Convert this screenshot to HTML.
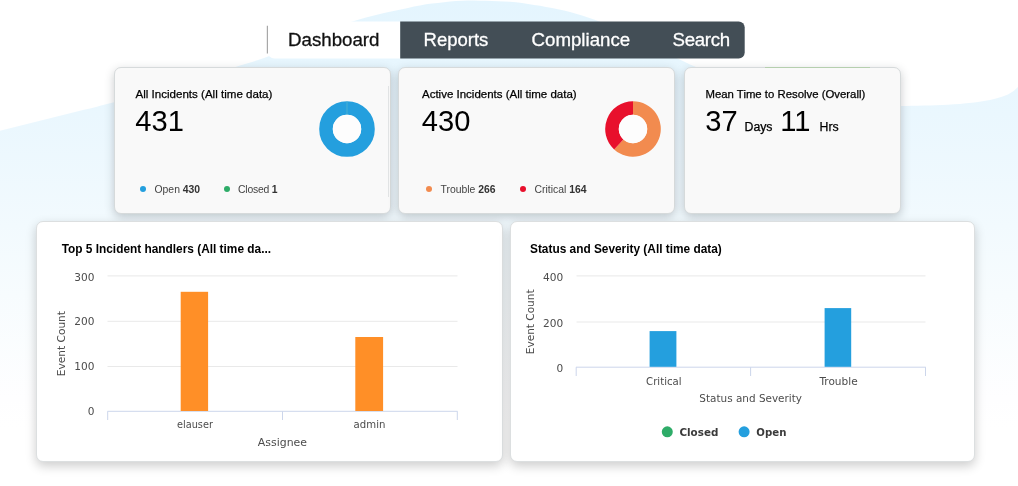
<!DOCTYPE html>
<html lang="en">
<head>
<meta charset="utf-8">
<title>Dashboard</title>
<style>
html,body{margin:0;padding:0;}
body{width:1018px;height:486px;overflow:hidden;background:#fff;position:relative;font-family:"Liberation Sans",Arial,sans-serif;color:#000;}
.abs{position:absolute;}
#bg{position:absolute;left:0;top:0;width:1018px;height:486px;}
.t{position:absolute;white-space:nowrap;line-height:1;}
.card{position:absolute;box-sizing:border-box;background:#f9f9f9;border:1px solid #d6dadb;border-radius:7px;box-shadow:0 3px 10px rgba(45,50,55,.25);}
.wcard{position:absolute;box-sizing:border-box;background:#fff;border:1px solid #dcdfe0;border-radius:7px;box-shadow:0 4px 11px rgba(0,0,0,.2);}
.tl{font-size:18.7px;-webkit-text-stroke:0.3px currentColor;}
.title{font-size:11.57px;color:#000;-webkit-text-stroke:0.25px #000;}
.big{font-size:29.1px;color:#000;}
.lg{font-size:10.4px;color:#444;}
.lg b{color:#333;}
.dot{position:absolute;width:6px;height:6px;border-radius:50%;}
.ct{font-weight:bold;font-size:11.86px;color:#000;}
svg text{font-family:"DejaVu Sans","Liberation Sans",sans-serif;}
</style>
</head>
<body>
<svg id="bg" viewBox="0 0 1018 486">
<defs><linearGradient id="g" x1="0" y1="0" x2="0" y2="1">
<stop offset="0" stop-color="#e4f5fe"/><stop offset="0.235" stop-color="#eaf7fe"/><stop offset="0.32" stop-color="#edf8fe"/><stop offset="0.607" stop-color="#f7fcfe"/><stop offset="0.82" stop-color="#fefeff"/><stop offset="0.88" stop-color="#ffffff"/></linearGradient></defs>
<path d="M0,130.8 L6,129.3 L12,127.8 L18,126.3 L24,124.8 L30,123.3 L36,121.8 L42,120.3 L48,118.8 L54,117.3 L60,115.8 L66,114.3 L72,112.8 L78,111.3 L84,109.8 L90,108.4 L96,106.9 L102,105.3 L108,103.8 L114,102.2 L120,100.6 L126,99.0 L132,97.3 L138,95.7 L144,94.0 L150,92.3 L156,90.6 L162,88.9 L168,87.2 L174,85.4 L180,83.7 L186,81.9 L192,80.1 L198,78.3 L204,76.5 L210,74.7 L216,72.9 L222,71.1 L228,69.3 L234,67.4 L240,65.6 L246,63.8 L252,61.9 L258,60.0 L264,58.0 L270,55.8 L276,53.5 L282,51.1 L288,48.5 L294,45.8 L300,43.1 L306,40.3 L312,37.5 L318,34.8 L324,32.1 L330,29.6 L336,27.1 L342,24.9 L348,22.8 L354,20.9 L360,19.2 L366,17.5 L372,16.0 L378,14.5 L384,13.1 L390,11.8 L396,10.5 L402,9.2 L408,7.9 L414,6.6 L420,5.4 L426,4.3 L432,3.5 L438,2.9 L444,2.2 L450,1.6 L456,1.1 L462,0.8 L468,0.6 L474,0.6 L480,0.7 L486,0.8 L492,1.0 L498,1.2 L504,1.5 L510,1.8 L516,2.3 L522,3.0 L528,3.9 L534,4.9 L540,5.8 L546,6.9 L552,8.0 L558,9.2 L564,10.5 L570,12.0 L576,13.7 L582,15.5 L588,17.5 L594,19.6 L600,21.7 L606,24.1 L612,26.6 L618,29.3 L624,32.1 L630,34.9 L636,37.9 L642,40.9 L648,44.0 L654,47.0 L660,50.0 L666,53.0 L672,56.0 L678,58.8 L684,61.6 L690,64.4 L696,67.0 L702,69.4 L708,71.8 L714,74.1 L720,76.4 L726,78.6 L732,80.7 L738,82.7 L744,84.6 L750,86.4 L756,88.0 L762,89.5 L768,90.9 L774,92.2 L780,93.5 L786,94.8 L792,95.9 L798,97.1 L804,98.1 L810,99.0 L816,99.9 L822,100.7 L828,101.3 L834,101.9 L840,102.4 L846,103.0 L852,103.5 L858,104.0 L864,104.4 L870,104.8 L876,105.2 L882,105.5 L888,105.7 L894,105.8 L900,105.9 L906,105.9 L912,105.8 L918,105.7 L924,105.6 L930,105.4 L936,105.2 L942,105.0 L948,104.7 L954,104.3 L960,103.9 L966,103.3 L972,102.7 L978,101.9 L984,101.0 L990,99.9 L996,98.4 L1002,96.8 L1008,94.5 L1014,90.7 L1018,86.9 L1018,486 L0,486 Z" fill="url(#g)"/>
</svg>

<svg class="abs" style="left:0;top:0;" width="1018" height="70" viewBox="0 0 1018 70">
<path d="M267.4 21.6H400.3V58.5H274.4A7 7 0 0 1 267.4 51.5Z" fill="#fff"/>
<path d="M400.2 21.6H738.7A6 6 0 0 1 744.7 27.6V52.5A6 6 0 0 1 738.7 58.5H400.2Z" fill="#434e56"/>
<path d="M267.4 25.8V53.6" stroke="#a8a8a8" stroke-width="1.2" fill="none"/>
</svg>
<span class="t tl" style="left:288px;top:30.9px;color:#111;">Dashboard</span>
<span class="t tl" style="left:423.6px;top:31.0px;color:#fff;font-size:18.5px;">Reports</span>
<span class="t tl" style="left:531.5px;top:30.9px;color:#fff;">Compliance</span>
<span class="t tl" style="left:672.5px;top:30.9px;color:#fff;letter-spacing:-0.3px;">Search</span>

<!-- cards -->
<div class="card" style="left:114px;top:67px;width:277px;height:147px;"></div>
<div class="card" style="left:398.3px;top:67px;width:276.7px;height:147px;"></div>
<div class="card" style="left:683.7px;top:67px;width:217.3px;height:147px;"></div>
<div class="wcard" style="left:36px;top:221px;width:467px;height:241px;"></div>
<div class="wcard" style="left:510px;top:221px;width:465px;height:241px;"></div>

<!-- card 1 content -->
<span class="t title" style="left:135.5px;top:88.5px;">All Incidents (All time data)</span>
<span class="t big" style="left:135.3px;top:107.3px;">431</span>
<svg class="abs" style="left:318px;top:100px;" width="58" height="58" viewBox="0 0 58 58"><circle cx="29" cy="29" r="21.0" fill="none" stroke="#249fde" stroke-width="13.6"/><circle cx="29" cy="29" r="14.2" fill="#fdfdfd"/><path d="M29 1.4V14.6" stroke="#6fc0c4" stroke-width="0.5"/></svg>
<i class="dot" style="left:140.3px;top:185.6px;background:#249fde;"></i>
<span class="t lg" style="left:154.5px;top:184.8px;">Open <b>430</b></span>
<i class="dot" style="left:223.8px;top:185.6px;background:#2eac68;"></i>
<span class="t lg" style="left:238px;top:184.8px;letter-spacing:-0.2px;">Closed <b>1</b></span>
<div class="abs" style="left:388px;top:86px;width:1px;height:111px;background:#e1e3e4;"></div>

<!-- card 2 content -->
<span class="t title" style="left:422px;top:88.5px;font-size:11.5px;">Active Incidents (All time data)</span>
<span class="t big" style="left:421.8px;top:107.3px;">430</span>
<svg class="abs" style="left:604.3px;top:100px;" width="58" height="58" viewBox="0 0 58 58"><path d="M29.00,1.20 A27.8,27.8 0 1 1 10.15,49.43 L19.37,39.44 A14.2,14.2 0 1 0 29.00,14.80 Z" fill="#f28b4f"/>
<path d="M10.15,49.43 A27.8,27.8 0 0 1 29.00,1.20 L29.00,14.80 A14.2,14.2 0 0 0 19.37,39.44 Z" fill="#e8102c"/><circle cx="29" cy="29" r="14.2" fill="#fdfdfd"/></svg>
<i class="dot" style="left:426.2px;top:185.6px;background:#f28b4f;"></i>
<span class="t lg" style="left:440.5px;top:184.8px;">Trouble <b>266</b></span>
<i class="dot" style="left:520px;top:185.6px;background:#e8102c;"></i>
<span class="t lg" style="left:534.5px;top:184.8px;">Critical <b>164</b></span>

<!-- card 3 content -->
<div class="abs" style="left:764.5px;top:67px;width:105px;height:1px;background:#b5cfae;"></div>
<span class="t title" style="left:705.5px;top:88.5px;font-size:11.36px;">Mean Time to Resolve (Overall)</span>
<span class="t big" style="left:705.3px;top:107.3px;">37</span>
<span class="t" style="left:744.5px;top:121.3px;font-size:12.3px;-webkit-text-stroke:0.25px #000;">Days</span>
<span class="t big" style="left:780.3px;top:107.3px;">11</span>
<span class="t" style="left:819.5px;top:121.3px;font-size:12.3px;-webkit-text-stroke:0.25px #000;">Hrs</span>

<!-- chart titles -->
<span class="t ct" style="left:61.7px;top:244px;">Top 5 Incident handlers (All time da...</span>
<span class="t ct" style="left:530px;top:244px;">Status and Severity (All time data)</span>

<svg class="abs" style="left:0;top:0;" width="1018" height="486" viewBox="0 0 1018 486">
<g stroke="#e9e9e9" stroke-width="1">
<path d="M107.5 275.9H457.5M107.5 321.3H457.5M107.5 366.5H457.5"/>
<path d="M576.5 275.9H925.5M576.5 322H925.5"/>
</g>
<g stroke="#ccd6eb" stroke-width="1" fill="none">
<path d="M107.5 411.3H457.5M107.7 411.3V420M282.5 411.3V420M457.3 411.3V420"/>
<path d="M576 367.2H925.8M576.2 367.2V376M750.6 367.2V376M925.5 367.2V376"/>
</g>
<rect x="180.7" y="291.8" width="27.4" height="119.2" fill="#ff8f27"/>
<rect x="355.3" y="337" width="27.8" height="74" fill="#ff8f27"/>
<rect x="649.6" y="331.1" width="26.8" height="35.7" fill="#249fde"/>
<rect x="824.6" y="308.1" width="26.6" height="58.7" fill="#249fde"/>
<text transform="translate(74.34,281.0) scale(0.9789,1)" font-size="10.8" font-weight="normal" fill="#4c4c4c" style="font-family:'DejaVu Sans','Liberation Sans',sans-serif">300</text>
<text transform="translate(74.34,325.3) scale(0.9790,1)" font-size="10.8" font-weight="normal" fill="#4c4c4c" style="font-family:'DejaVu Sans','Liberation Sans',sans-serif">200</text>
<text transform="translate(74.34,370.1) scale(0.9790,1)" font-size="10.8" font-weight="normal" fill="#4c4c4c" style="font-family:'DejaVu Sans','Liberation Sans',sans-serif">100</text>
<text transform="translate(87.80,415.1) scale(0.9790,1)" font-size="10.8" font-weight="normal" fill="#4c4c4c" style="font-family:'DejaVu Sans','Liberation Sans',sans-serif">0</text>
<text transform="translate(543.01,281.0) scale(0.9806,1)" font-size="10.8" font-weight="normal" fill="#4c4c4c" style="font-family:'DejaVu Sans','Liberation Sans',sans-serif">400</text>
<text transform="translate(543.04,327.1) scale(0.9790,1)" font-size="10.8" font-weight="normal" fill="#4c4c4c" style="font-family:'DejaVu Sans','Liberation Sans',sans-serif">200</text>
<text transform="translate(556.50,372.2) scale(0.9790,1)" font-size="10.8" font-weight="normal" fill="#4c4c4c" style="font-family:'DejaVu Sans','Liberation Sans',sans-serif">0</text>
<text transform="translate(177.04,428.1) scale(0.9022,1)" font-size="10.8" font-weight="normal" fill="#4c4c4c" style="font-family:'DejaVu Sans','Liberation Sans',sans-serif">elauser</text>
<text transform="translate(353.61,428.1) scale(0.9395,1)" font-size="10.8" font-weight="normal" fill="#4c4c4c" style="font-family:'DejaVu Sans','Liberation Sans',sans-serif">admin</text>
<text transform="translate(257.87,445.5) scale(1.0110,1)" font-size="10.8" font-weight="normal" fill="#4c4c4c" style="font-family:'DejaVu Sans','Liberation Sans',sans-serif">Assignee</text>
<text transform="translate(646.11,385.0) scale(0.9384,1)" font-size="10.8" font-weight="normal" fill="#4c4c4c" style="font-family:'DejaVu Sans','Liberation Sans',sans-serif">Critical</text>
<text transform="translate(819.40,385.0) scale(0.9786,1)" font-size="10.8" font-weight="normal" fill="#4c4c4c" style="font-family:'DejaVu Sans','Liberation Sans',sans-serif">Trouble</text>
<text transform="translate(699.37,401.7) scale(0.9676,1)" font-size="10.8" font-weight="normal" fill="#4c4c4c" style="font-family:'DejaVu Sans','Liberation Sans',sans-serif">Status and Severity</text>
<text transform="translate(65.4,376.18) rotate(-90) scale(0.9812,1)" font-size="10.8" font-weight="normal" fill="#4c4c4c" style="font-family:'DejaVu Sans','Liberation Sans',sans-serif">Event Count</text>
<text transform="translate(534.4,354.18) rotate(-90) scale(0.9766,1)" font-size="10.8" font-weight="normal" fill="#4c4c4c" style="font-family:'DejaVu Sans','Liberation Sans',sans-serif">Event Count</text>
<text transform="translate(679.43,436.1) scale(0.9429,1)" font-size="11" font-weight="bold" fill="#3a3a3a" style="font-family:'DejaVu Sans','Liberation Sans',sans-serif">Closed</text>
<text transform="translate(756.34,436.1) scale(0.9253,1)" font-size="11" font-weight="bold" fill="#3a3a3a" style="font-family:'DejaVu Sans','Liberation Sans',sans-serif">Open</text>
<circle cx="667.3" cy="431.8" r="5.5" fill="#2eac68"/>
<circle cx="744.1" cy="431.8" r="5.5" fill="#249fde"/>
</svg>
</body>
</html>
